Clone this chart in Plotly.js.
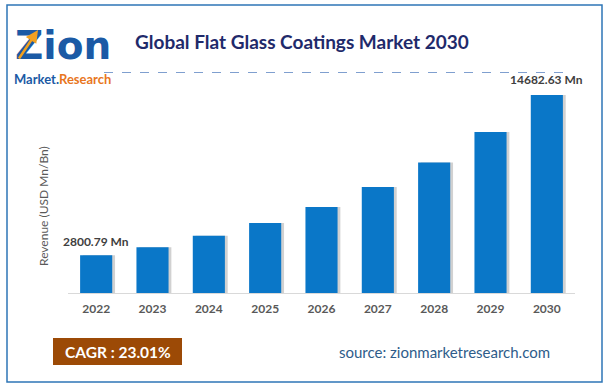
<!DOCTYPE html>
<html>
<head>
<meta charset="utf-8">
<script src="https://cdn.plot.ly/plotly-3.0.1.min.js"></script>
<style>
html,body{margin:0;padding:0;background:#fff;}
#chart{width:607px;height:390px;}
</style>
</head>
<body>
<div id="chart"></div>
<script>
// ---- data ----
const years = ['2022','2023','2024','2025','2026','2027','2028','2029','2030'];
const revenue = [2800.79, 3400, 4240, 5190, 6380, 7860, 9680, 11950, 14682.63];
const firstLabel = '2800.79 Mn';
const lastLabel = '14682.63 Mn';
const chartTitle = 'Global Flat Glass Coatings Market 2030';
const yTitle = 'Revenue (USD Mn/Bn)';
const cagrText = 'CAGR : 23.01%';
const sourceText = 'source: zionmarketresearch.com';

// ---- layout geometry ----
const W = 607, H = 390;
const M = {l: 68, r: 32, t: 80, b: 97};
const PW = W - M.l - M.r, PH = H - M.t - M.b;
const px = x => (x - M.l) / PW;      // pixel x -> paper x
const py = y => (H - M.b - y) / PH;  // pixel y -> paper y

const FONT = 'Lato, "Open Sans", sans-serif';
const last = years.length - 1;

const shadow = {
  type: 'bar', x: years, y: revenue,
  width: 0.57, offset: -0.285 + 0.05,
  marker: {color: 'rgba(90,90,90,0.28)'},
  hoverinfo: 'skip', showlegend: false
};
const bars = {
  type: 'bar', x: years, y: revenue,
  width: 0.57, offset: -0.285,
  marker: {color: '#0A77C8'},
  showlegend: false
};

const layout = {
  width: W, height: H,
  margin: M,
  paper_bgcolor: '#ffffff', plot_bgcolor: '#ffffff',
  barmode: 'overlay',
  font: {family: FONT, color: '#595959'},
  xaxis: {
    type: 'category',
    categoryorder: 'array', categoryarray: years,
    range: [-0.5, last + 0.5],
    showgrid: false, zeroline: false,
    showline: true, linecolor: '#D9D9D9', linewidth: 1,
    ticks: '',
    ticklabelstandoff: 5,
    tickfont: {family: FONT, size: 12, color: '#595959', weight: 'bold'},
    fixedrange: true
  },
  yaxis: {
    range: [0, 15800],
    visible: false,
    fixedrange: true
  },
  shapes: [
    {type: 'rect', xref: 'paper', yref: 'paper',
     x0: px(7), x1: px(602), y0: py(382), y1: py(5),
     line: {color: '#2E75B6', width: 1.5}, fillcolor: 'rgba(0,0,0,0)'},
    {type: 'line', xref: 'paper', yref: 'paper',
     x0: px(104), x1: px(566), y0: py(72.5), y1: py(72.5),
     line: {color: '#7F9FCF', width: 1, dash: 'dash'}},
    {type: 'rect', xref: 'paper', yref: 'paper',
     x0: px(53), x1: px(182), y0: py(365), y1: py(338),
     line: {width: 0}, fillcolor: '#9C4A06'}
  ],
  annotations: [
    {xref: 'paper', yref: 'paper', x: px(133), y: py(41), xanchor: 'left', yanchor: 'middle',
     text: '<b>' + chartTitle + '</b>', showarrow: false,
     font: {family: FONT, size: 19, color: '#1F2A6B'}},
    {xref: 'paper', yref: 'paper', x: px(43), y: py(206), xanchor: 'center', yanchor: 'middle',
     text: yTitle, textangle: -90, showarrow: false,
     font: {family: FONT, size: 12, color: '#595959'}},
    {xref: 'x', yref: 'y', x: 0, y: revenue[0], yanchor: 'bottom', yshift: 4,
     text: '<b>' + firstLabel + '</b>', showarrow: false,
     font: {family: FONT, size: 12, color: '#404040'}},
    {xref: 'x', yref: 'y', x: last, y: revenue[last], yanchor: 'bottom', yshift: 6,
     text: '<b>' + lastLabel + '</b>', showarrow: false,
     font: {family: FONT, size: 12, color: '#404040'}},
    {xref: 'paper', yref: 'paper', x: px(118), y: py(351.5), xanchor: 'center', yanchor: 'middle',
     text: '<b>' + cagrText + '</b>', showarrow: false,
     font: {family: FONT, size: 15.5, color: '#ffffff'}},
    {xref: 'paper', yref: 'paper', x: px(444), y: py(352), xanchor: 'center', yanchor: 'middle',
     text: sourceText, showarrow: false,
     font: {family: FONT, size: 15, color: '#2E5C8A'}},
    // logo
    {xref: 'paper', yref: 'paper', x: px(63), y: py(45), xanchor: 'center', yanchor: 'middle',
     text: '<b>Zion</b>', showarrow: false,
     font: {family: '"DejaVu Sans", sans-serif', size: 39, color: '#1B5AA5'}},
    {xref: 'paper', yref: 'paper', x: px(62), y: py(78.5), xanchor: 'center', yanchor: 'middle',
     text: '<b><span style="color:#1B5AA5">Market.</span><span style="color:#E8761E">Research</span></b>', showarrow: false,
     font: {family: FONT, size: 13, color: '#1B5AA5'}},
    {xref: 'paper', yref: 'paper', x: px(38), y: py(30), ax: -20, ay: 30,
     text: '', showarrow: true, arrowhead: 2, arrowsize: 1, arrowwidth: 2.5, arrowcolor: '#F0A020'}
  ]
};

Plotly.newPlot('chart', [shadow, bars], layout, {displayModeBar: false, staticPlot: true});
</script>
</body>
</html>
